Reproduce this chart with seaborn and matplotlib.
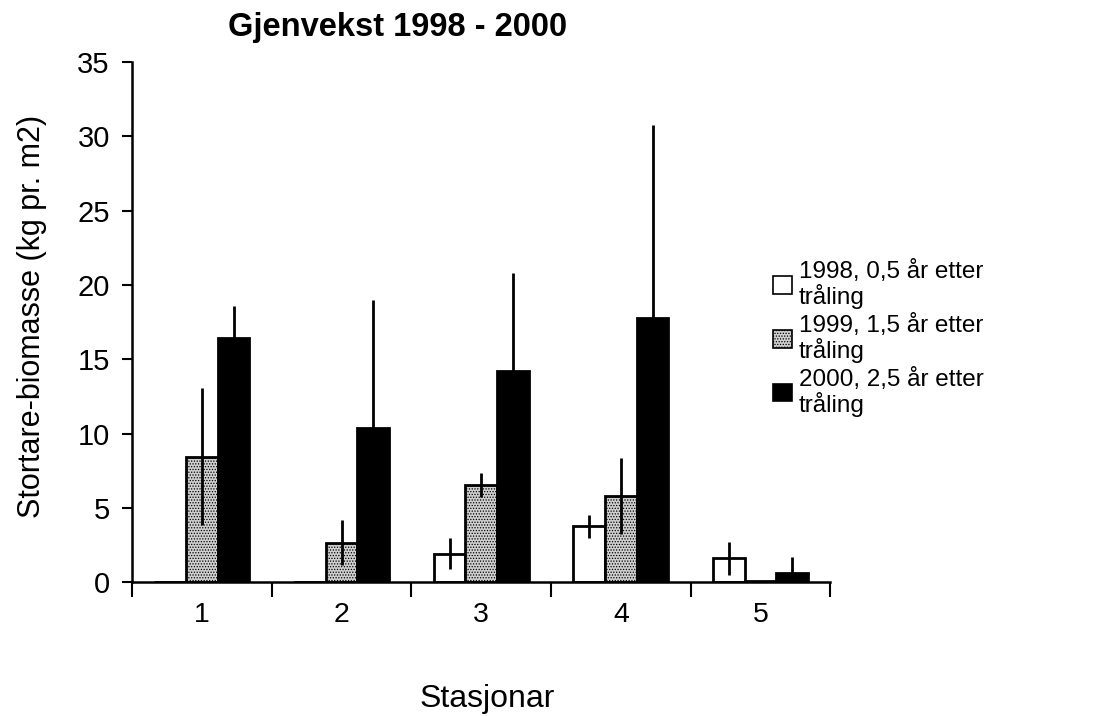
import numpy as np
import pandas as pd
import seaborn as sns
import matplotlib.pyplot as plt
from matplotlib.patches import Patch

stations = ['1', '2', '3', '4', '5']
series = ['1998, 0,5 år etter\ntråling', '1999, 1,5 år etter\ntråling', '2000, 2,5 år etter\ntråling']
v1998 = [0, 0, 1.9, 3.75, 1.6]
e1998 = [0, 0, 1.05, 0.75, 1.1]
v1999 = [8.45, 2.65, 6.55, 5.8, 0.05]
e1999 = [4.6, 1.5, 0.8, 2.55, 0]
v2000 = [16.45, 10.4, 14.2, 17.75, 0.6]
e2000 = [2.1, 8.6, 6.6, 13.0, 1.1]

df = pd.DataFrame({
    'Stasjonar': stations * 3,
    'serie': np.repeat(series, len(stations)),
    'biomasse': v1998 + v1999 + v2000,
    'err': e1998 + e1999 + e2000,
})

sns.set_style('white')
plt.rcParams['font.family'] = ['Liberation Sans', 'DejaVu Sans']
plt.rcParams['hatch.linewidth'] = 0.6
for k in ['text.color', 'axes.labelcolor', 'xtick.color', 'ytick.color']:
    plt.rcParams[k] = 'black'

colors = ['white', '#cfcfcf', 'black']
hatches = ['', '......', '']

fig = plt.figure(figsize=(11.05, 7.16), dpi=100)
ax = fig.add_axes([0.1195, 0.187, 0.632, 0.7264])

sns.barplot(data=df, x='Stasjonar', y='biomasse', hue='serie', order=stations,
            hue_order=series, palette=colors, width=0.68, gap=0, errorbar=None,
            edgecolor='black', linewidth=2, legend=False, ax=ax)

# colour / stipple and error bars per series
bar_groups = list(ax.containers)
for i, cont in enumerate(bar_groups):
    errs = df[df['serie'] == series[i]]['err'].values
    for j, bar in enumerate(cont):
        bar.set_facecolor(colors[i])
        bar.set_hatch(hatches[i])
        xc = bar.get_x() + bar.get_width() / 2
        if errs[j] > 0:
            ax.errorbar(xc, bar.get_height(), yerr=errs[j], fmt='none',
                        ecolor='black', elinewidth=2, capsize=0)

ax.set_xlim(-0.5, 4.5)
ax.set_ylim(0, 35)
ax.set_yticks(np.arange(0, 36, 5))
ax.set_yticklabels([str(v) for v in range(0, 36, 5)], fontsize=21)
ax.set_xticks(range(5))
ax.set_xticklabels(stations, fontsize=20.5)
ax.set_xticks(np.arange(-0.5, 5, 1), minor=True)
ax.tick_params(axis='x', which='major', length=0, pad=14)
ax.tick_params(axis='x', which='minor', length=11, width=1.5, direction='out', bottom=True)
ax.tick_params(axis='y', length=7, width=1.5, direction='out', left=True, pad=9)

for s in ['top', 'right']:
    ax.spines[s].set_visible(False)
for s in ['left', 'bottom']:
    ax.spines[s].set_linewidth(1.8)
    ax.spines[s].set_color('black')

ax.set_xlabel('Stasjonar', fontsize=23)
ax.xaxis.set_label_coords(0.509, -0.196)
ax.set_ylabel('Stortare-biomasse (kg pr. m2)', fontsize=22)
ax.yaxis.set_label_coords(-0.122, 0.51)

fig.text(0.36, 0.962, 'Gjenvekst 1998 - 2000', fontsize=23.5, fontweight='bold',
         ha='center', va='center')

handles = [Patch(facecolor=colors[i], edgecolor='black', hatch=hatches[i], linewidth=1.2)
           for i in range(3)]
leg = fig.legend(handles, series, loc='upper left', bbox_to_anchor=(0.68, 0.667),
                 frameon=False, fontsize=17.5, handlelength=0.75, handleheight=0.75,
                 handletextpad=0.3, labelspacing=0.2)
for t in leg.get_texts():
    t.set_linespacing(1.05)

fig.savefig('out.png', dpi=100)
